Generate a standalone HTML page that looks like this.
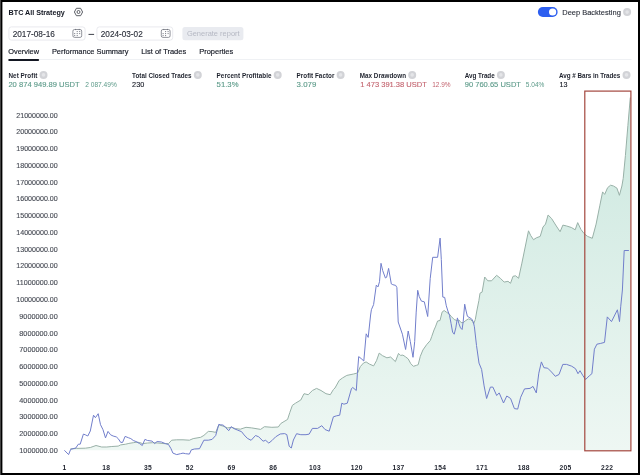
<!DOCTYPE html>
<html><head><meta charset="utf-8"><style>
html,body{margin:0;padding:0;width:640px;height:475px;overflow:hidden;background:#000;}
#p{position:absolute;left:2.5px;top:2px;width:635.5px;height:471px;background:#fff;}
#e{position:absolute;left:0;top:0;width:1px;height:475px;background:#444;}
#h{position:absolute;left:2px;top:2px;width:1px;height:471px;background:#9a9a9a;}
svg{position:absolute;left:0;top:0;font-family:"Liberation Sans", sans-serif;will-change:transform;}
</style></head><body>
<div id="e"></div><div id="p"></div><div id="h"></div>
<svg width="640" height="475" viewBox="0 0 640 475">

<defs><linearGradient id="gf" x1="0" y1="90" x2="0" y2="450" gradientUnits="userSpaceOnUse">
<stop offset="0" stop-color="#cae7de"/><stop offset="1" stop-color="#eef7f3"/></linearGradient></defs>
<path d="M70.4,448.9 L76.4,448.4 L85.3,448.2 L90.3,447.5 L96.0,445.5 L101.7,447.0 L106.8,447.0 L111.8,446.5 L118.2,446.1 L120.7,444.9 L125.7,444.2 L128.9,443.4 L133.3,442.7 L137.1,442.1 L140.0,442.7 L142.6,443.6 L147.6,443.0 L152.7,442.7 L158.0,443.0 L164.0,443.6 L168.5,443.6 L171.7,440.2 L176.7,439.8 L183.0,439.8 L189.4,440.2 L193.2,438.6 L200.7,437.3 L203.9,435.4 L208.3,431.4 L212.1,431.6 L215.7,432.4 L218.8,424.8 L222.6,426.0 L227.7,427.9 L231.5,427.3 L235.3,428.6 L240.3,429.2 L246.0,427.3 L251.7,427.9 L260.6,429.4 L264.4,426.7 L271.9,427.3 L278.3,427.0 L280.8,423.5 L287.6,419.4 L289.8,412.5 L292.4,405.3 L295.5,403.2 L300.8,400.0 L304.0,393.7 L308.2,394.7 L312.4,390.5 L316.6,388.4 L321.0,390.5 L326.0,393.7 L330.3,394.7 L333.4,389.5 L335.0,388.0 L339.2,380.4 L342.6,377.9 L346.8,375.4 L353.5,374.0 L357.7,372.9 L360.3,366.6 L363.5,363.0 L366.1,361.9 L369.3,364.0 L373.6,365.9 L376.5,360.7 L379.2,353.1 L382.4,355.6 L386.9,357.8 L390.6,357.0 L395.4,361.6 L398.5,353.4 L400.5,355.4 L402.9,355.1 L405.5,356.8 L408.2,358.9 L410.8,363.7 L413.4,366.3 L416.6,365.3 L418.2,364.7 L420.3,356.3 L422.9,350.0 L426.6,344.7 L430.3,340.5 L431.8,336.3 L434.0,330.0 L435.4,326.9 L437.6,321.0 L440.0,320.5 L442.1,312.1 L444.2,310.5 L446.3,312.1 L448.9,313.7 L451.6,316.8 L454.2,319.5 L456.8,320.5 L458.9,320.0 L461.1,322.6 L463.2,322.6 L465.8,320.5 L468.4,318.9 L470.5,319.5 L472.6,321.6 L473.7,323.7 L475.3,319.5 L476.8,311.0 L478.9,300.5 L480.0,293.2 L482.1,292.1 L484.7,277.0 L487.8,280.8 L491.6,280.8 L496.6,275.3 L500.4,278.3 L504.2,282.1 L508.0,281.3 L510.5,283.3 L513.0,276.3 L515.6,275.8 L518.6,278.3 L521.9,263.1 L525.2,247.0 L528.5,230.8 L530.7,235.5 L533.5,239.7 L536.4,237.8 L540.2,236.4 L543.0,227.0 L545.5,224.1 L548.1,215.0 L551.5,218.4 L556.3,226.0 L560.1,231.7 L562.9,225.1 L566.7,226.0 L571.4,227.5 L575.2,229.8 L577.7,222.6 L580.9,229.4 L584.1,233.6 L587.6,236.4 L592.3,238.3 L596.1,224.1 L599.9,205.2 L602.6,191.9 L604.7,194.4 L607.6,187.7 L610.6,185.2 L613.5,186.0 L616.9,188.1 L619.4,195.3 L621.9,186.0 L623.2,178.4 L625.4,155.6 L627.9,125.4 L630.3,97.5 L630.3,450.2 L70.4,450.2 Z" fill="url(#gf)"/>
<path d="M70.4,448.9 L76.4,448.4 L85.3,448.2 L90.3,447.5 L96.0,445.5 L101.7,447.0 L106.8,447.0 L111.8,446.5 L118.2,446.1 L120.7,444.9 L125.7,444.2 L128.9,443.4 L133.3,442.7 L137.1,442.1 L140.0,442.7 L142.6,443.6 L147.6,443.0 L152.7,442.7 L158.0,443.0 L164.0,443.6 L168.5,443.6 L171.7,440.2 L176.7,439.8 L183.0,439.8 L189.4,440.2 L193.2,438.6 L200.7,437.3 L203.9,435.4 L208.3,431.4 L212.1,431.6 L215.7,432.4 L218.8,424.8 L222.6,426.0 L227.7,427.9 L231.5,427.3 L235.3,428.6 L240.3,429.2 L246.0,427.3 L251.7,427.9 L260.6,429.4 L264.4,426.7 L271.9,427.3 L278.3,427.0 L280.8,423.5 L287.6,419.4 L289.8,412.5 L292.4,405.3 L295.5,403.2 L300.8,400.0 L304.0,393.7 L308.2,394.7 L312.4,390.5 L316.6,388.4 L321.0,390.5 L326.0,393.7 L330.3,394.7 L333.4,389.5 L335.0,388.0 L339.2,380.4 L342.6,377.9 L346.8,375.4 L353.5,374.0 L357.7,372.9 L360.3,366.6 L363.5,363.0 L366.1,361.9 L369.3,364.0 L373.6,365.9 L376.5,360.7 L379.2,353.1 L382.4,355.6 L386.9,357.8 L390.6,357.0 L395.4,361.6 L398.5,353.4 L400.5,355.4 L402.9,355.1 L405.5,356.8 L408.2,358.9 L410.8,363.7 L413.4,366.3 L416.6,365.3 L418.2,364.7 L420.3,356.3 L422.9,350.0 L426.6,344.7 L430.3,340.5 L431.8,336.3 L434.0,330.0 L435.4,326.9 L437.6,321.0 L440.0,320.5 L442.1,312.1 L444.2,310.5 L446.3,312.1 L448.9,313.7 L451.6,316.8 L454.2,319.5 L456.8,320.5 L458.9,320.0 L461.1,322.6 L463.2,322.6 L465.8,320.5 L468.4,318.9 L470.5,319.5 L472.6,321.6 L473.7,323.7 L475.3,319.5 L476.8,311.0 L478.9,300.5 L480.0,293.2 L482.1,292.1 L484.7,277.0 L487.8,280.8 L491.6,280.8 L496.6,275.3 L500.4,278.3 L504.2,282.1 L508.0,281.3 L510.5,283.3 L513.0,276.3 L515.6,275.8 L518.6,278.3 L521.9,263.1 L525.2,247.0 L528.5,230.8 L530.7,235.5 L533.5,239.7 L536.4,237.8 L540.2,236.4 L543.0,227.0 L545.5,224.1 L548.1,215.0 L551.5,218.4 L556.3,226.0 L560.1,231.7 L562.9,225.1 L566.7,226.0 L571.4,227.5 L575.2,229.8 L577.7,222.6 L580.9,229.4 L584.1,233.6 L587.6,236.4 L592.3,238.3 L596.1,224.1 L599.9,205.2 L602.6,191.9 L604.7,194.4 L607.6,187.7 L610.6,185.2 L613.5,186.0 L616.9,188.1 L619.4,195.3 L621.9,186.0 L623.2,178.4 L625.4,155.6 L627.9,125.4 L630.3,97.5" fill="none" stroke="#98b0a7" stroke-width="1.0" stroke-linejoin="round"/>
<path d="M64.4,450.3 L68.6,454.6 L70.7,449.3 L75.8,448.0 L78.3,444.2 L80.2,444.2 L83.4,434.1 L85.3,434.8 L87.8,436.0 L90.3,431.0 L93.5,415.2 L95.4,417.7 L98.2,413.7 L100.5,424.7 L103.0,429.7 L105.5,437.9 L108.0,431.4 L110.6,434.8 L113.1,436.0 L116.3,436.9 L118.2,438.6 L120.7,442.4 L122.6,442.4 L125.1,436.4 L128.3,437.7 L130.8,438.6 L133.3,440.5 L135.9,441.5 L139.6,443.6 L142.3,445.5 L144.9,439.4 L147.6,440.5 L152.1,441.1 L154.6,443.6 L157.1,441.5 L161.5,442.0 L165.3,443.6 L168.5,444.5 L171.0,448.7 L172.9,453.1 L176.7,454.6 L180.5,453.7 L183.0,453.1 L185.6,453.7 L189.4,454.1 L191.3,449.9 L194.4,449.0 L199.5,448.7 L203.9,440.2 L208.3,440.2 L212.1,439.4 L215.7,435.5 L218.8,424.4 L220.7,424.8 L223.3,425.1 L225.8,427.7 L228.7,430.7 L231.2,426.7 L234.0,428.6 L237.8,430.2 L241.6,431.7 L244.1,434.9 L247.3,438.3 L251.1,440.3 L255.5,435.5 L258.7,436.8 L263.1,441.2 L265.6,440.3 L268.8,443.1 L271.9,440.6 L275.7,436.8 L280.2,434.0 L284.6,433.6 L286.8,434.6 L289.2,446.3 L291.3,448.0 L293.4,440.0 L296.6,433.7 L300.8,434.7 L306.0,434.7 L309.2,434.1 L312.4,428.4 L317.6,428.4 L321.8,425.7 L325.0,429.5 L329.2,431.2 L333.4,416.8 L336.6,415.8 L339.7,415.2 L341.8,403.2 L343.9,404.2 L347.3,403.2 L351.5,388.5 L352.8,387.5 L356.3,390.5 L357.4,373.5 L358.7,356.6 L361.1,358.5 L363.8,361.0 L366.2,333.8 L368.2,337.4 L370.6,315.0 L371.4,309.7 L373.6,304.6 L376.3,285.1 L378.0,286.9 L379.5,281.7 L381.0,263.3 L382.7,270.6 L385.4,278.0 L386.6,277.3 L388.6,268.4 L391.3,283.9 L392.8,284.7 L395.7,285.4 L396.9,287.6 L398.2,322.0 L402.4,334.2 L405.6,349.5 L408.2,331.0 L410.3,341.6 L413.0,357.3 L414.7,341.6 L416.2,312.1 L417.7,290.3 L419.2,296.5 L421.4,301.1 L424.3,301.8 L427.7,316.5 L430.2,278.7 L432.7,257.3 L437.6,257.3 L440.1,238.1 L441.3,259.5 L442.8,297.1 L444.7,297.4 L446.3,305.8 L447.9,311.0 L449.5,315.3 L451.1,323.7 L452.6,332.1 L454.2,334.2 L455.8,327.9 L457.4,317.9 L458.9,323.7 L460.5,327.9 L462.1,329.5 L463.2,321.6 L464.7,304.2 L466.1,311.0 L467.4,316.3 L470.0,317.9 L471.6,318.9 L473.2,321.6 L474.4,326.8 L476.5,345.5 L479.0,363.1 L481.6,369.4 L484.1,385.9 L486.6,398.5 L490.4,387.1 L492.9,387.1 L496.7,395.5 L499.2,392.9 L503.5,403.0 L506.8,396.0 L510.6,398.5 L514.4,408.6 L517.7,409.1 L520.7,397.2 L524.5,388.9 L530.0,388.4 L533.0,386.4 L536.3,392.9 L538.8,373.2 L541.4,361.9 L543.9,367.7 L547.7,368.2 L551.5,372.0 L555.3,376.3 L559.0,374.5 L562.8,364.4 L566.6,364.4 L571.7,366.2 L575.5,368.7 L578.0,373.7 L580.0,370.7 L583.0,375.8 L585.6,379.5 L589.3,375.8 L591.9,373.7 L594.4,349.2 L596.9,344.2 L600.7,343.4 L604.5,342.4 L607.3,316.9 L611.5,321.6 L617.4,309.8 L619.5,321.6 L620.7,306.8 L622.4,290.0 L624.2,250.5 L628.9,250.5" fill="none" stroke="#717ecb" stroke-width="1.0" stroke-linejoin="round"/>
<rect x="584.8" y="91.1" width="46.1" height="359.7" fill="none" stroke="#a3463e" stroke-width="1.2"/>

<text x="8.6" y="14.7" font-size="7.2" font-weight="700" fill="#131722" text-anchor="start" textLength="56.2" lengthAdjust="spacing">BTC All Strategy</text><polygon points="74.4,12 76.4,8.3 80.6,8.3 82.6,12 80.6,15.7 76.4,15.7" fill="none" stroke="#4a4d55" stroke-width="0.9" stroke-linejoin="round"/><circle cx="78.5" cy="12" r="1.5" fill="none" stroke="#4a4d55" stroke-width="0.9"/><rect x="537.9" y="7.1" width="19.7" height="9.8" rx="4.9" fill="#2d5ff0"/><circle cx="552.6" cy="12" r="3.6" fill="#fff"/><text x="562.3" y="14.7" font-size="7.6" font-weight="400" fill="#2a2e39" text-anchor="start" textLength="58.5" lengthAdjust="spacingAndGlyphs" stroke="#2a2e39" stroke-width="0.12">Deep Backtesting</text><circle cx="627.1" cy="12.1" r="4" fill="#d2d3d7"/><circle cx="627.1" cy="12.1" r="1.80" fill="#e4e5e8"/><rect x="8.9" y="26.9" width="76.2" height="13.2" rx="2.5" fill="#fff" stroke="#e3e5ea" stroke-width="0.8"/><text x="12.7" y="36.8" font-size="8.3" font-weight="400" fill="#2a2e39" text-anchor="start" textLength="42.2" lengthAdjust="spacingAndGlyphs" stroke="#2a2e39" stroke-width="0.12">2017-08-16</text><rect x="72.9" y="29.5" width="8.8" height="7.9" rx="1.6" fill="none" stroke="#6f727c" stroke-width="0.75"/><rect x="75.0" y="28.9" width="0.8" height="1.2" fill="#6f727c"/><rect x="78.8" y="28.9" width="0.8" height="1.2" fill="#6f727c"/><rect x="76.70" y="31.10" width="1" height="1" fill="#6f727c"/><rect x="79.20" y="31.10" width="1" height="1" fill="#6f727c"/><rect x="74.20" y="33.10" width="1" height="1" fill="#6f727c"/><rect x="76.70" y="33.10" width="1" height="1" fill="#6f727c"/><rect x="79.20" y="33.10" width="1" height="1" fill="#6f727c"/><rect x="74.20" y="35.10" width="1" height="1" fill="#6f727c"/><rect x="76.70" y="35.10" width="1" height="1" fill="#6f727c"/><line x1="88.5" y1="34.4" x2="94.1" y2="34.4" stroke="#2a2e39" stroke-width="0.9"/><rect x="96.9" y="26.9" width="75.8" height="13.2" rx="2.5" fill="#fff" stroke="#e3e5ea" stroke-width="0.8"/><text x="100.75" y="36.8" font-size="8.3" font-weight="400" fill="#2a2e39" text-anchor="start" textLength="42" lengthAdjust="spacingAndGlyphs" stroke="#2a2e39" stroke-width="0.12">2024-03-02</text><rect x="161.3" y="29.5" width="8.8" height="7.9" rx="1.6" fill="none" stroke="#6f727c" stroke-width="0.75"/><rect x="163.4" y="28.9" width="0.8" height="1.2" fill="#6f727c"/><rect x="167.20000000000002" y="28.9" width="0.8" height="1.2" fill="#6f727c"/><rect x="165.10" y="31.10" width="1" height="1" fill="#6f727c"/><rect x="167.60" y="31.10" width="1" height="1" fill="#6f727c"/><rect x="162.60" y="33.10" width="1" height="1" fill="#6f727c"/><rect x="165.10" y="33.10" width="1" height="1" fill="#6f727c"/><rect x="167.60" y="33.10" width="1" height="1" fill="#6f727c"/><rect x="162.60" y="35.10" width="1" height="1" fill="#6f727c"/><rect x="165.10" y="35.10" width="1" height="1" fill="#6f727c"/><rect x="182.4" y="26.9" width="61" height="13.4" rx="2.5" fill="#e9ebf0"/><text x="186.9" y="36.4" font-size="7.6" font-weight="400" fill="#b5b8c3" text-anchor="start" textLength="52.7" lengthAdjust="spacingAndGlyphs">Generate report</text><text x="8.25" y="53.8" font-size="7.6" font-weight="400" fill="#131722" text-anchor="start" textLength="30.75" lengthAdjust="spacingAndGlyphs" stroke="#131722" stroke-width="0.15">Overview</text><text x="51.9" y="53.8" font-size="7.6" font-weight="400" fill="#131722" text-anchor="start" textLength="76.5" lengthAdjust="spacingAndGlyphs" stroke="#131722" stroke-width="0.15">Performance Summary</text><text x="141.2" y="53.8" font-size="7.6" font-weight="400" fill="#131722" text-anchor="start" textLength="45" lengthAdjust="spacingAndGlyphs" stroke="#131722" stroke-width="0.15">List of Trades</text><text x="199.2" y="53.8" font-size="7.6" font-weight="400" fill="#131722" text-anchor="start" textLength="34.1" lengthAdjust="spacingAndGlyphs" stroke="#131722" stroke-width="0.15">Properties</text><rect x="8" y="59" width="623.5" height="0.8" fill="#eceef2"/><rect x="8.25" y="58.9" width="30.9" height="2" rx="1" fill="#131722"/><text x="8.5" y="77.5" font-size="6.3" font-weight="700" fill="#1e222d" text-anchor="start" textLength="28.8" lengthAdjust="spacing">Net Profit</text><circle cx="43.5" cy="74.9" r="4" fill="#d2d3d7"/><circle cx="43.5" cy="74.9" r="1.80" fill="#e4e5e8"/><text x="132.1" y="77.5" font-size="6.3" font-weight="700" fill="#1e222d" text-anchor="start" textLength="59.5" lengthAdjust="spacing">Total Closed Trades</text><circle cx="197.79999999999998" cy="74.9" r="4" fill="#d2d3d7"/><circle cx="197.79999999999998" cy="74.9" r="1.80" fill="#e4e5e8"/><text x="216.6" y="77.5" font-size="6.3" font-weight="700" fill="#1e222d" text-anchor="start" textLength="54.9" lengthAdjust="spacing">Percent Profitable</text><circle cx="277.7" cy="74.9" r="4" fill="#d2d3d7"/><circle cx="277.7" cy="74.9" r="1.80" fill="#e4e5e8"/><text x="296.6" y="77.5" font-size="6.3" font-weight="700" fill="#1e222d" text-anchor="start" textLength="37.8" lengthAdjust="spacing">Profit Factor</text><circle cx="340.6" cy="74.9" r="4" fill="#d2d3d7"/><circle cx="340.6" cy="74.9" r="1.80" fill="#e4e5e8"/><text x="359.7" y="77.5" font-size="6.3" font-weight="700" fill="#1e222d" text-anchor="start" textLength="46.3" lengthAdjust="spacing">Max Drawdown</text><circle cx="412.2" cy="74.9" r="4" fill="#d2d3d7"/><circle cx="412.2" cy="74.9" r="1.80" fill="#e4e5e8"/><text x="464.7" y="77.5" font-size="6.3" font-weight="700" fill="#1e222d" text-anchor="start" textLength="30" lengthAdjust="spacing">Avg Trade</text><circle cx="500.9" cy="74.9" r="4" fill="#d2d3d7"/><circle cx="500.9" cy="74.9" r="1.80" fill="#e4e5e8"/><text x="559.1" y="77.5" font-size="6.3" font-weight="700" fill="#1e222d" text-anchor="start" textLength="61.2" lengthAdjust="spacing">Avg # Bars in Trades</text><circle cx="626.5000000000001" cy="74.9" r="4" fill="#d2d3d7"/><circle cx="626.5000000000001" cy="74.9" r="1.80" fill="#e4e5e8"/><text x="8.4" y="87.2" font-size="7.8" font-weight="400" fill="#5c9a89" text-anchor="start" textLength="71.3" lengthAdjust="spacingAndGlyphs" stroke="#5c9a89" stroke-width="0.12">20 874 949.89 USDT</text><text x="85.2" y="87.4" font-size="6.3" font-weight="400" fill="#5c9a89" text-anchor="start" textLength="31.7" lengthAdjust="spacingAndGlyphs">2 087.49%</text><text x="132.1" y="87.2" font-size="7.8" font-weight="400" fill="#131722" text-anchor="start" textLength="12.2" lengthAdjust="spacingAndGlyphs" stroke="#131722" stroke-width="0.12">230</text><text x="216.6" y="87.2" font-size="7.8" font-weight="400" fill="#5c9a89" text-anchor="start" textLength="21.9" lengthAdjust="spacingAndGlyphs" stroke="#5c9a89" stroke-width="0.12">51.3%</text><text x="296.6" y="87.2" font-size="7.8" font-weight="400" fill="#5c9a89" text-anchor="start" textLength="19.7" lengthAdjust="spacingAndGlyphs" stroke="#5c9a89" stroke-width="0.12">3.079</text><text x="360.25" y="87.2" font-size="7.8" font-weight="400" fill="#c3646f" text-anchor="start" textLength="66.6" lengthAdjust="spacingAndGlyphs" stroke="#c3646f" stroke-width="0.12">1 473 391.38 USDT</text><text x="432.2" y="87.4" font-size="6.3" font-weight="400" fill="#c3646f" text-anchor="start" textLength="18.4" lengthAdjust="spacingAndGlyphs">12.9%</text><text x="464.7" y="87.2" font-size="7.8" font-weight="400" fill="#5c9a89" text-anchor="start" textLength="56.3" lengthAdjust="spacingAndGlyphs" stroke="#5c9a89" stroke-width="0.12">90 760.65 USDT</text><text x="525.8" y="87.4" font-size="6.3" font-weight="400" fill="#5c9a89" text-anchor="start" textLength="18.6" lengthAdjust="spacingAndGlyphs">5.04%</text><text x="559.4" y="87.2" font-size="7.8" font-weight="400" fill="#131722" text-anchor="start" textLength="8" lengthAdjust="spacingAndGlyphs" stroke="#131722" stroke-width="0.12">13</text><text x="57.7" y="452.90" font-size="6.9" font-weight="400" fill="#474b55" text-anchor="end" textLength="38.4" lengthAdjust="spacingAndGlyphs" stroke="#474b55" stroke-width="0.12">1000000.00</text><text x="57.7" y="436.13" font-size="6.9" font-weight="400" fill="#474b55" text-anchor="end" textLength="38.4" lengthAdjust="spacingAndGlyphs" stroke="#474b55" stroke-width="0.12">2000000.00</text><text x="57.7" y="419.36" font-size="6.9" font-weight="400" fill="#474b55" text-anchor="end" textLength="38.4" lengthAdjust="spacingAndGlyphs" stroke="#474b55" stroke-width="0.12">3000000.00</text><text x="57.7" y="402.59" font-size="6.9" font-weight="400" fill="#474b55" text-anchor="end" textLength="38.4" lengthAdjust="spacingAndGlyphs" stroke="#474b55" stroke-width="0.12">4000000.00</text><text x="57.7" y="385.82" font-size="6.9" font-weight="400" fill="#474b55" text-anchor="end" textLength="38.4" lengthAdjust="spacingAndGlyphs" stroke="#474b55" stroke-width="0.12">5000000.00</text><text x="57.7" y="369.05" font-size="6.9" font-weight="400" fill="#474b55" text-anchor="end" textLength="38.4" lengthAdjust="spacingAndGlyphs" stroke="#474b55" stroke-width="0.12">6000000.00</text><text x="57.7" y="352.28" font-size="6.9" font-weight="400" fill="#474b55" text-anchor="end" textLength="38.4" lengthAdjust="spacingAndGlyphs" stroke="#474b55" stroke-width="0.12">7000000.00</text><text x="57.7" y="335.51" font-size="6.9" font-weight="400" fill="#474b55" text-anchor="end" textLength="38.4" lengthAdjust="spacingAndGlyphs" stroke="#474b55" stroke-width="0.12">8000000.00</text><text x="57.7" y="318.74" font-size="6.9" font-weight="400" fill="#474b55" text-anchor="end" textLength="38.4" lengthAdjust="spacingAndGlyphs" stroke="#474b55" stroke-width="0.12">9000000.00</text><text x="57.7" y="301.97" font-size="6.9" font-weight="400" fill="#474b55" text-anchor="end" textLength="41.4" lengthAdjust="spacingAndGlyphs" stroke="#474b55" stroke-width="0.12">10000000.00</text><text x="57.7" y="285.20" font-size="6.9" font-weight="400" fill="#474b55" text-anchor="end" textLength="41.4" lengthAdjust="spacingAndGlyphs" stroke="#474b55" stroke-width="0.12">11000000.00</text><text x="57.7" y="268.43" font-size="6.9" font-weight="400" fill="#474b55" text-anchor="end" textLength="41.4" lengthAdjust="spacingAndGlyphs" stroke="#474b55" stroke-width="0.12">12000000.00</text><text x="57.7" y="251.66" font-size="6.9" font-weight="400" fill="#474b55" text-anchor="end" textLength="41.4" lengthAdjust="spacingAndGlyphs" stroke="#474b55" stroke-width="0.12">13000000.00</text><text x="57.7" y="234.89" font-size="6.9" font-weight="400" fill="#474b55" text-anchor="end" textLength="41.4" lengthAdjust="spacingAndGlyphs" stroke="#474b55" stroke-width="0.12">14000000.00</text><text x="57.7" y="218.12" font-size="6.9" font-weight="400" fill="#474b55" text-anchor="end" textLength="41.4" lengthAdjust="spacingAndGlyphs" stroke="#474b55" stroke-width="0.12">15000000.00</text><text x="57.7" y="201.35" font-size="6.9" font-weight="400" fill="#474b55" text-anchor="end" textLength="41.4" lengthAdjust="spacingAndGlyphs" stroke="#474b55" stroke-width="0.12">16000000.00</text><text x="57.7" y="184.58" font-size="6.9" font-weight="400" fill="#474b55" text-anchor="end" textLength="41.4" lengthAdjust="spacingAndGlyphs" stroke="#474b55" stroke-width="0.12">17000000.00</text><text x="57.7" y="167.81" font-size="6.9" font-weight="400" fill="#474b55" text-anchor="end" textLength="41.4" lengthAdjust="spacingAndGlyphs" stroke="#474b55" stroke-width="0.12">18000000.00</text><text x="57.7" y="151.04" font-size="6.9" font-weight="400" fill="#474b55" text-anchor="end" textLength="41.4" lengthAdjust="spacingAndGlyphs" stroke="#474b55" stroke-width="0.12">19000000.00</text><text x="57.7" y="134.27" font-size="6.9" font-weight="400" fill="#474b55" text-anchor="end" textLength="41.4" lengthAdjust="spacingAndGlyphs" stroke="#474b55" stroke-width="0.12">20000000.00</text><text x="57.7" y="117.50" font-size="6.9" font-weight="400" fill="#474b55" text-anchor="end" textLength="41.4" lengthAdjust="spacingAndGlyphs" stroke="#474b55" stroke-width="0.12">21000000.00</text><text x="64.4" y="470.1" font-size="6.7" font-weight="700" fill="#1e222d" text-anchor="middle">1</text><text x="106.14" y="470.1" font-size="6.7" font-weight="700" fill="#1e222d" text-anchor="middle" textLength="7.8" lengthAdjust="spacing">18</text><text x="147.88" y="470.1" font-size="6.7" font-weight="700" fill="#1e222d" text-anchor="middle" textLength="7.8" lengthAdjust="spacing">35</text><text x="189.62" y="470.1" font-size="6.7" font-weight="700" fill="#1e222d" text-anchor="middle" textLength="7.8" lengthAdjust="spacing">52</text><text x="231.36" y="470.1" font-size="6.7" font-weight="700" fill="#1e222d" text-anchor="middle" textLength="7.8" lengthAdjust="spacing">69</text><text x="273.1" y="470.1" font-size="6.7" font-weight="700" fill="#1e222d" text-anchor="middle" textLength="7.8" lengthAdjust="spacing">86</text><text x="314.84" y="470.1" font-size="6.7" font-weight="700" fill="#1e222d" text-anchor="middle" textLength="11.8" lengthAdjust="spacing">103</text><text x="356.58" y="470.1" font-size="6.7" font-weight="700" fill="#1e222d" text-anchor="middle" textLength="11.8" lengthAdjust="spacing">120</text><text x="398.32" y="470.1" font-size="6.7" font-weight="700" fill="#1e222d" text-anchor="middle" textLength="11.8" lengthAdjust="spacing">137</text><text x="440.06" y="470.1" font-size="6.7" font-weight="700" fill="#1e222d" text-anchor="middle" textLength="11.8" lengthAdjust="spacing">154</text><text x="481.8" y="470.1" font-size="6.7" font-weight="700" fill="#1e222d" text-anchor="middle" textLength="11.8" lengthAdjust="spacing">171</text><text x="523.54" y="470.1" font-size="6.7" font-weight="700" fill="#1e222d" text-anchor="middle" textLength="11.8" lengthAdjust="spacing">188</text><text x="565.28" y="470.1" font-size="6.7" font-weight="700" fill="#1e222d" text-anchor="middle" textLength="11.8" lengthAdjust="spacing">205</text><text x="607.02" y="470.1" font-size="6.7" font-weight="700" fill="#1e222d" text-anchor="middle" textLength="11.8" lengthAdjust="spacing">222</text>
</svg>
</body></html>
